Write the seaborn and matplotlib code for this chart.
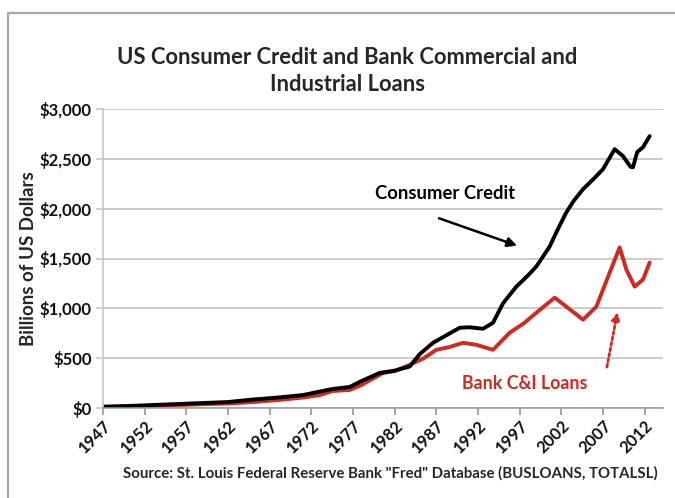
import matplotlib
matplotlib.use("Agg")
import matplotlib.pyplot as plt
import matplotlib.patches as mpatches
import seaborn as sns
import pandas as pd
import numpy as np

# ---- data (billions of US dollars) ----
cc_years = [1947, 1950, 1953, 1956, 1959, 1962, 1965, 1968, 1971, 1973, 1974.5,
            1976.6, 1978, 1980.2, 1982, 1983.8, 1985, 1986.6, 1988, 1989.8, 1991,
            1992.6, 1993.8, 1995, 1996.6, 1998, 1999, 2000.6, 2001.5, 2002.6,
            2003.5, 2004.6, 2006, 2007, 2008.4, 2009.4, 2010.3, 2010.6, 2011.1,
            2011.8, 2012.6]
cc_values = [10, 20, 30, 40, 50, 60, 85, 105, 130, 165, 190,
             211, 270, 352, 375, 416, 540, 654, 720, 805, 810,
             795, 855, 1050, 1218, 1330, 1420, 1620, 1780, 1963,
             2080, 2195, 2310, 2396, 2597, 2527, 2420, 2416, 2567,
             2617, 2728]

ci_years = [1947, 1950, 1953, 1956, 1959, 1962, 1965, 1968, 1971, 1973, 1974.5,
            1976.6, 1978, 1980.6, 1982, 1983.8, 1985.5, 1987, 1988.5, 1990.2,
            1991.8, 1993.8, 1995.8, 1997.5, 1999, 2001.2, 2002.6, 2004.6,
            2006.2, 2007.8, 2009, 2009.8, 2010.8, 2011.8, 2012.6]
ci_values = [15, 18, 22, 30, 38, 45, 60, 80, 105, 130, 170,
             181, 230, 352, 370, 433, 500, 584, 610, 654,
             634, 584, 755, 850, 956, 1107, 1017, 886,
             1017, 1359, 1611, 1389, 1218, 1289, 1460]

y_ticks = [0, 500, 1000, 1500, 2000, 2500, 3000]
y_ticklabels = ["$0", "$500", "$1,000", "$1,500", "$2,000", "$2,500", "$3,000"]
x_ticks = list(range(1947, 2013, 5))

title = "US Consumer Credit and Bank Commercial and\nIndustrial Loans"
ylabel = "Billions of US Dollars"
source = 'Source: St. Louis Federal Reserve Bank "Fred" Database (BUSLOANS, TOTALSL)'

RED = "#cc2a22"

sns.set_theme(style="white")
plt.rcParams["font.family"] = ["Lato", "DejaVu Sans"]

fig = plt.figure(figsize=(6.75, 4.98), dpi=100)
ax = fig.add_axes([103 / 675, 1 - 408 / 498, (663 - 103) / 675, (408 - 109) / 498])

df = pd.concat([
    pd.DataFrame({"year": ci_years, "value": ci_values, "series": "Bank C&I Loans"}),
    pd.DataFrame({"year": cc_years, "value": cc_values, "series": "Consumer Credit"}),
])
sns.lineplot(data=df, x="year", y="value", hue="series",
             palette={"Bank C&I Loans": RED, "Consumer Credit": "black"},
             linewidth=2.8, legend=False, ax=ax, estimator=None, sort=True)

ax.set_xlim(1947, 2014.2)
ax.set_ylim(0, 3000)
ax.set_yticks(y_ticks)
ax.set_yticklabels(y_ticklabels)
ax.set_xticks(x_ticks)
ax.set_xticklabels([str(x) for x in x_ticks], rotation=45, ha="right",
                   rotation_mode="anchor")
for lab in ax.get_xticklabels() + ax.get_yticklabels():
    lab.set_fontweight("bold")
    lab.set_fontsize(12)
    lab.set_color("#111111")
ax.set_xlabel("")
ax.set_ylabel(ylabel, fontsize=13.5, fontweight="bold", labelpad=2)
ax.yaxis.grid(True, color="#bdbdbd", linewidth=1.1)
ax.set_axisbelow(True)
for s in ["top", "right"]:
    ax.spines[s].set_visible(False)
ax.spines["left"].set_color("#c8c8c8")
ax.spines["bottom"].set_color("#9a9a9a")
ax.spines["bottom"].set_linewidth(1.1)
ax.tick_params(axis="x", direction="out", length=5, color="#9a9a9a", pad=2,
               bottom=True)
ax.tick_params(axis="y", direction="out", length=5, color="#c8c8c8", pad=3,
               left=True)

fig.text(0.515, 1 - 71 / 498, title, ha="center", va="center",
         fontsize=15.8, fontweight="bold", linespacing=1.3)
fig.text(0.578, 1 - 473 / 498, source, ha="center", va="center",
         fontsize=10.8, fontweight="bold")

# annotations
ax.annotate("Consumer Credit", xy=(1988.0, 2154), ha="center", va="center",
            fontsize=13.3, fontweight="bold", color="black")
ax.annotate("", xy=(1997.0, 1620), xytext=(1987.0, 1913),
            arrowprops=dict(arrowstyle="-|>", color="black", lw=1.8,
                            mutation_scale=14))
ax.annotate("Bank C&I Loans", xy=(1997.6, 242), ha="center", va="center",
            fontsize=12.8, fontweight="bold", color=RED)
ax.annotate("", xy=(2008.8, 990), xytext=(2007.4, 383),
            arrowprops=dict(arrowstyle="-|>", color=RED, lw=2,
                            linestyle=(0, (1, 1)), mutation_scale=12))

# outer frame
fig.patches.append(mpatches.Rectangle((8 / 675, -0.1), 1.2, 0.1 + 1 - 13 / 498,
                                      transform=fig.transFigure, fill=False,
                                      edgecolor="#a8a8a8", linewidth=1.6))

fig.savefig("out.png", dpi=100)
